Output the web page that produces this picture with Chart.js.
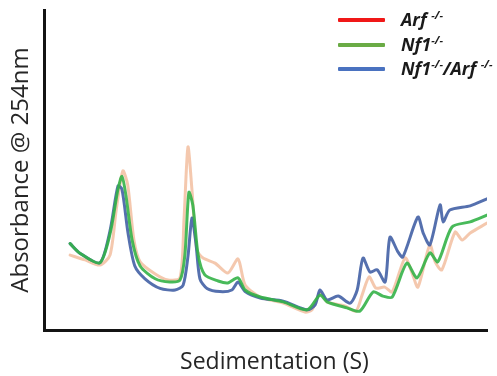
<!DOCTYPE html>
<html>
<head>
<meta charset="utf-8">
<script src="https://cdn.jsdelivr.net/npm/chart.js@4"></script>
<style>
  html,body{margin:0;padding:0;background:#fff;}
  #wrap{position:relative;width:497px;height:376px;}
  canvas{display:block;}
  #legend{position:absolute;left:338px;top:8px;font-family:"Open Sans","Noto Sans",sans-serif;font-weight:bold;font-style:italic;font-size:18px;color:#1a1a1a;}
  .row{position:relative;height:24.5px;}
  .sw{position:absolute;left:0;top:10px;width:47px;height:4px;border-radius:1px;}
  .lab{position:absolute;left:63px;top:-1px;white-space:nowrap;line-height:24px;}
  .lab sup{font-size:11px;vertical-align:0;position:relative;top:-7px;}
</style>
</head>
<body>
<div id="wrap">
  <canvas id="c" width="497" height="376"></canvas>
  <div id="legend">
    <div class="row"><div class="sw" style="background:#f01818"></div><div class="lab">Arf <sup>-/-</sup></div></div>
    <div class="row"><div class="sw" style="background:#6aab45"></div><div class="lab">Nf1<sup>-/-</sup></div></div>
    <div class="row"><div class="sw" style="background:#4a72c0"></div><div class="lab">Nf1<sup>-/-</sup>/Arf <sup>-/-</sup></div></div>
  </div>
</div>
<script>
// Series names
const seriesNames = ["Arf -/-", "Nf1-/-", "Nf1-/-/Arf -/-"];

// Arf -/- (sedimentation position, absorbance)
const arfX = [5.9,9.3,12.6,14.9,16.3,17.8,18.9,20.3,21.7,25.1,28.0,30.7,31.6,32.5,33.4,34.5,35.9,38.6,41.5,43.8,45.4,48.8,54.0,58.9,60.5,62.3,63.9,67.9,70.4,71.8,73.4,74.9,76.9,78.6,81.5,83.1,84.4,87.1,88.3,89.8,92.8,94.4,96.2,100];
const arfY = [0.234,0.219,0.203,0.234,0.375,0.497,0.453,0.281,0.213,0.175,0.156,0.163,0.344,0.572,0.438,0.25,0.225,0.209,0.178,0.222,0.141,0.103,0.084,0.056,0.063,0.116,0.088,0.075,0.059,0.109,0.166,0.131,0.134,0.119,0.225,0.178,0.134,0.266,0.213,0.188,0.306,0.281,0.303,0.334];

// Nf1 -/-
const nf1X = [5.9,8.1,12.6,14.9,16.7,17.6,18.5,19.9,21.7,25.1,28.4,30.7,31.8,32.7,33.6,34.8,36.3,39.3,41.5,43.8,45.4,48.8,54.0,59.4,62.3,63.9,68.4,71.3,74.3,76.5,78.6,81.9,84.2,87.1,88.9,92.1,96.2,100];
const nf1Y = [0.27,0.24,0.21,0.30,0.44,0.48,0.42,0.28,0.20,0.16,0.15,0.156,0.234,0.43,0.39,0.234,0.172,0.153,0.147,0.163,0.125,0.103,0.088,0.063,0.109,0.088,0.069,0.059,0.119,0.106,0.103,0.209,0.163,0.241,0.213,0.322,0.338,0.359];

// Nf1 -/- / Arf -/-
const dblX = [5.9,8.1,12.6,14.9,16.7,17.6,19.0,20.5,22.8,26.2,29.6,31.4,32.5,33.4,34.3,35.2,36.8,39.7,42.4,43.8,45.4,48.8,54.0,59.4,61.2,62.3,63.9,66.4,69.1,70.7,72.0,73.6,75.2,77.0,78.1,79.9,81.0,84.4,85.6,87.1,89.4,90.1,91.6,96.2,100];
const dblY = [0.27,0.24,0.21,0.31,0.45,0.44,0.30,0.20,0.16,0.13,0.125,0.14,0.23,0.35,0.27,0.16,0.13,0.12,0.125,0.15,0.12,0.10,0.09,0.063,0.078,0.125,0.094,0.106,0.084,0.125,0.225,0.181,0.188,0.15,0.29,0.244,0.228,0.353,0.303,0.266,0.391,0.338,0.375,0.388,0.41];

const pts = (xs, ys) => xs.map((x, i) => ({x: x, y: ys[i]}));

new Chart(document.getElementById('c'), {
  type: 'line',
  data: {
    datasets: [
      {label: seriesNames[0], data: pts(arfX, arfY), borderColor: 'rgba(238,170,130,0.65)', borderWidth: 3, order: 2},
      {label: seriesNames[1], data: pts(nf1X, nf1Y), borderColor: 'rgba(52,178,72,0.9)', borderWidth: 3, order: 0},
      {label: seriesNames[2], data: pts(dblX, dblY), borderColor: 'rgba(66,96,165,0.9)', borderWidth: 3, order: 1}
    ]
  },
  options: {
    responsive: false,
    animation: false,
    events: [],
    layout: {padding: {top: 10, right: 10, left: 0, bottom: 0}},
    elements: {
      point: {radius: 0},
      line: {tension: 0.25, borderCapStyle: 'round', borderJoinStyle: 'round'}
    },
    plugins: {legend: {display: false}, tooltip: {enabled: false}},
    scales: {
      x: {
        type: 'linear', min: 0, max: 100,
        grid: {display: false, drawTicks: false},
        ticks: {display: false},
        border: {display: true, color: '#141414', width: 3},
        title: {display: true, text: '   Sedimentation (S)', color: '#262626',
                font: {family: '"Open Sans","Noto Sans",sans-serif', size: 23}, padding: {top: 0, bottom: 0}},
        afterFit: (s) => { s.height = 46; }
      },
      y: {
        min: 0, max: 1,
        grid: {display: false, drawTicks: false},
        ticks: {display: false},
        border: {display: true, color: '#141414', width: 3},
        title: {display: true, text: 'Absorbance @ 254nm', color: '#262626',
                font: {family: '"Open Sans","Noto Sans",sans-serif', size: 24}, padding: {top: 7, bottom: 0}},
        afterFit: (s) => { s.width = 44; }
      }
    }
  }
});
</script>
</body>
</html>
